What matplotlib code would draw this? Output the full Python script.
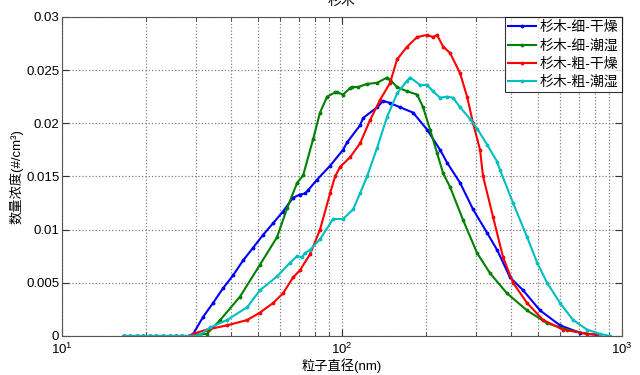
import matplotlib
matplotlib.use("Agg")
import matplotlib.pyplot as plt
from matplotlib.ticker import LogLocator, NullFormatter

plt.rcParams['font.family'] = ['Liberation Sans', 'Noto Sans CJK SC', 'DejaVu Sans']
plt.rcParams['mathtext.fontset'] = 'custom'
plt.rcParams['mathtext.rm'] = 'Liberation Sans'
plt.rcParams['axes.unicode_minus'] = False

title = "杉木"
xlabel = "粒子直径(nm)"
ylabel = "数量浓度(#/cm³)"
labels = ["杉木-细-干燥", "杉木-细-潮湿", "杉木-粗-干燥", "杉木-粗-潮湿"]
colors = ["#0000ff", "#008000", "#ff0000", "#00bfbf"]

base_d = [16.6, 17.5, 18.5, 19.5, 20.6, 21.7, 22.9, 24.2, 25.5, 26.9, 28.4]
base_v = [0.0] * len(base_d)

d_fine_dry = base_d + [29.4, 31.9, 34.6, 37.6, 40.8, 44.3, 48.1, 52.2, 56.7, 61.5, 66.8,
                       70.8, 73.8, 75.6, 81.4, 90.6, 100.8, 104.2, 115.9, 118.9, 133.4,
                       140.1, 148.4, 161.1, 179.3, 201.2, 223.9, 237.1, 263.9, 293.7,
                       329.5, 357.7, 398.1, 443.1, 509.6, 600.6, 707.9, 814.3]
v_fine_dry = base_v + [0.0002, 0.0018, 0.0031, 0.0045, 0.0057, 0.0071, 0.0083, 0.0095, 0.0106,
                       0.0117, 0.0130, 0.0133, 0.0134, 0.0137, 0.0147, 0.0160, 0.0175, 0.0182,
                       0.0198, 0.0205, 0.0215, 0.0221, 0.0219, 0.0215, 0.0210, 0.0194, 0.0175,
                       0.0163, 0.0144, 0.0119, 0.0097, 0.0081, 0.0055, 0.0043, 0.0024, 0.0010,
                       0.0003, 0.0001]

d_fine_wet = base_d + [29.4, 32.9, 36.7, 43.2, 50.9, 58.6, 63.6, 69.1, 72.6, 78.8, 83.4,
                       88.4, 94.4, 96.0, 100.8, 106.8, 108.6, 114.1, 122.8, 133.4, 144.8,
                       148.4, 157.2, 170.7, 185.3, 194.7, 206.2, 218.4, 229.5, 243.1,
                       270.5, 303.5, 337.7, 388.4, 457.9, 539.8, 636.2, 749.9]
v_fine_wet = base_v + [0.0001, 0.0002, 0.0015, 0.0037, 0.0067, 0.0093, 0.0120, 0.0144, 0.0151,
                       0.0185, 0.0210, 0.0225, 0.0229, 0.0229, 0.0227, 0.0233, 0.0234, 0.0234,
                       0.0237, 0.0238, 0.0243, 0.0241, 0.0234, 0.0230, 0.0227, 0.0215, 0.0194,
                       0.0172, 0.0153, 0.0140, 0.0109, 0.0078, 0.0059, 0.0040, 0.0024, 0.0012,
                       0.0006, 0.0002]

d_coarse_dry = base_d + [29.4, 32.9, 38.8, 45.8, 50.9, 56.7, 61.5, 66.8, 70.8, 76.9, 83.4,
                         90.6, 94.4, 98.4, 106.8, 115.9, 125.9, 136.7, 148.4, 157.2, 170.7,
                         185.3, 201.2, 211.3, 218.4, 229.5, 243.1, 263.9, 279.5, 293.7,
                         311.0, 318.8, 346.1, 375.8, 408.1, 457.9, 522.4, 615.6, 749.9, 834.6]
v_coarse_dry = base_v + [0.0002, 0.0006, 0.0010, 0.0015, 0.0022, 0.0031, 0.0040, 0.0055, 0.0062,
                         0.0077, 0.0100, 0.0134, 0.0150, 0.0159, 0.0168, 0.0181, 0.0203, 0.0222,
                         0.0238, 0.0260, 0.0272, 0.0281, 0.0283, 0.0281, 0.0283, 0.0272, 0.0266,
                         0.0247, 0.0225, 0.0200, 0.0175, 0.0150, 0.0112, 0.0074, 0.0050, 0.0031,
                         0.0015, 0.0006, 0.0002, 0.0001]

d_coarse_wet = base_d + [29.4, 31.1, 33.8, 38.8, 45.8, 50.9, 58.6, 65.2, 69.1, 71.7, 73.8,
                         76.9, 83.4, 92.9, 100.8, 109.5, 115.9, 122.8, 133.4, 144.8, 157.2,
                         170.7, 175.0, 189.9, 201.2, 211.3, 223.9, 237.1, 249.2, 263.9,
                         286.5, 303.5, 329.5, 357.7, 366.7, 408.1, 457.9, 497.2, 539.8,
                         600.6, 668.3, 749.9, 834.6, 906.0]
v_coarse_wet = base_v + [0.0, 0.0001, 0.0008, 0.0015, 0.0027, 0.0043, 0.0056, 0.0069, 0.0075,
                         0.0074, 0.0078, 0.0081, 0.0091, 0.0110, 0.0110, 0.0119, 0.0134, 0.0150,
                         0.0177, 0.0206, 0.0228, 0.0240, 0.0243, 0.0236, 0.0236, 0.0230, 0.0224,
                         0.0225, 0.0224, 0.0215, 0.0204, 0.0195, 0.0180, 0.0164, 0.0156, 0.0125,
                         0.0093, 0.0069, 0.0050, 0.0031, 0.0015, 0.0006, 0.0002, 0.0]

series = [(d_fine_dry, v_fine_dry), (d_fine_wet, v_fine_wet),
          (d_coarse_dry, v_coarse_dry), (d_coarse_wet, v_coarse_wet)]

fig = plt.figure(figsize=(6.4, 3.75), dpi=100)
ax = fig.add_axes([0.097, 0.104, 0.875, 0.851])

for (d, v), lab, c in zip(series, labels, colors):
    ax.plot(d, v, color=c, lw=1.5, marker='.', ms=3.5, label=lab)

ax.set_xscale('log')
ax.set_xlim(10, 1000)
ax.set_ylim(0, 0.03)
ax.xaxis.set_minor_locator(LogLocator(base=10, subs=range(2, 10)))
ax.xaxis.set_minor_formatter(NullFormatter())
ax.set_yticks([0, 0.005, 0.01, 0.015, 0.02, 0.025, 0.03])
ax.set_yticklabels(["0", "0.005", "0.01", "0.015", "0.02", "0.025", "0.03"])

ax.grid(True, which='major', ls=':', color='#808080', lw=0.9)
ax.grid(True, which='minor', axis='x', ls=':', color='#808080', lw=0.9)
ax.tick_params(which='both', direction='in', top=True, right=True, labelsize=9.5,
               colors='#333333', labelcolor='black', pad=2)
ax.tick_params(axis='x', which='major', pad=4)
ax.tick_params(which='major', length=5)
ax.tick_params(which='minor', length=3)
for s in ax.spines.values():
    s.set_color('#555555')
    s.set_linewidth(0.8)

ax.set_xlabel(xlabel, fontsize=9.5, labelpad=1)
ax.set_ylabel(ylabel, fontsize=9.5, labelpad=2)
fig.text(0.534, 0.998, title, ha='center', va='center', fontsize=10)

leg = ax.legend(loc='upper right', fontsize=10, frameon=True, fancybox=False,
                borderaxespad=0, handlelength=2.0, handletextpad=0.3,
                labelspacing=0.3, borderpad=0.25)
leg.get_frame().set_edgecolor('black')
leg.get_frame().set_linewidth(0.8)

fig.savefig("out.png", dpi=100)
